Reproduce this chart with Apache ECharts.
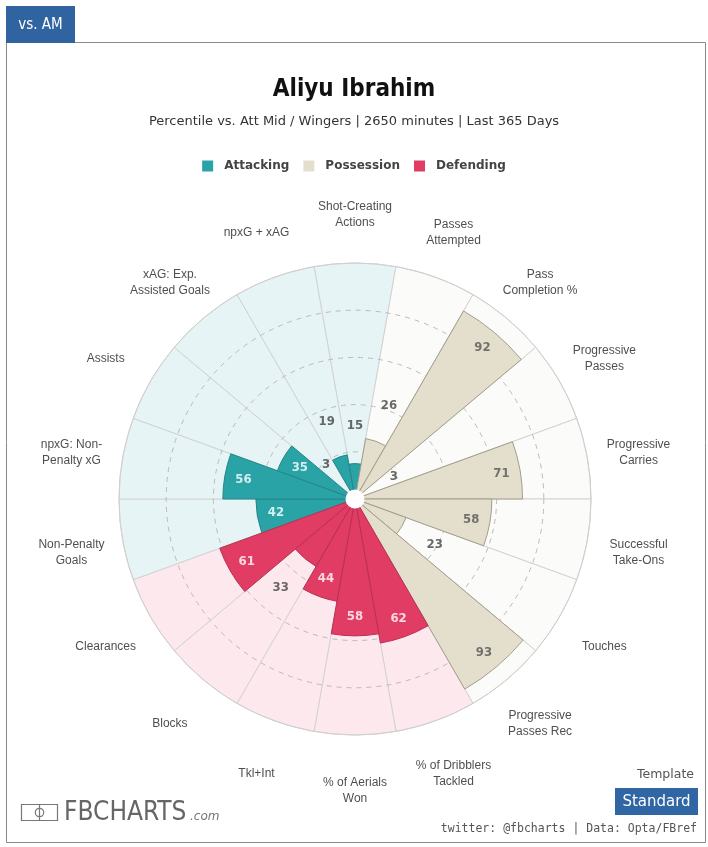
<!DOCTYPE html>
<html><head><meta charset="utf-8">
<script src="https://cdn.jsdelivr.net/npm/echarts@6/dist/echarts.min.js"></script>
<style>html,body{margin:0;padding:0;background:#fff}#c{width:708px;height:847px}</style>
</head><body><div id="c"></div>
<script>
// ---- data ----
const categories = ['Shot-Creating\nActions','Passes\nAttempted','Pass\nCompletion %','Progressive\nPasses','Progressive\nCarries','Successful\nTake-Ons','Touches','Progressive\nPasses Rec','% of Dribblers\nTackled','% of Aerials\nWon','Tkl+Int','Blocks','Clearances','Non-Penalty\nGoals','npxG: Non-\nPenalty xG','Assists','xAG: Exp.\nAssisted Goals','npxG + xAG'];
const values = [15,26,92,3,71,58,23,93,62,58,44,33,61,42,56,35,3,19];
const groups = ['Attacking','Possession','Possession','Possession','Possession','Possession','Possession','Possession','Defending','Defending','Defending','Defending','Defending','Attacking','Attacking','Attacking','Attacking','Attacking'];
const groupNames = ['Attacking','Possession','Defending'];
const radiusTicks = [0,20,40,60,80,100];
const titleText = 'Aliyu Ibrahim';
const subtitleText = 'Percentile vs. Att Mid / Wingers | 2650 minutes | Last 365 Days';

// ---- styles ----
const barColors = {Attacking:'#2aa3a7', Possession:'#e4dfcc', Defending:'#e03c64'};
const barBorders = {Attacking:'#23878b', Possession:'#a39d8b', Defending:'#b93154'};
const bgColors = {Attacking:'#e6f4f5', Possession:'#fbfbf9', Defending:'#fde8ee'};
const insideText = {Attacking:'#ffffff', Possession:'#555555', Defending:'#ffffff'};
const CX = 355, CY = 499, R = 236;
const LABEL_R = 122;

const chart = echarts.init(document.getElementById('c'), null, {renderer:'canvas'});

const series = [];
series.push({
  name:'bg', type:'bar', coordinateSystem:'polar', silent:true, z:0,
  barGap:'-100%', barCategoryGap:'0%',
  data: categories.map((c,i)=>({value:radiusTicks[radiusTicks.length-1], itemStyle:{color:bgColors[groups[i]]}})),
  itemStyle:{borderColor:'#d3d3d3', borderWidth:1}
});
groupNames.forEach(g=>{
  series.push({
    name:g, type:'bar', coordinateSystem:'polar', z:2,
    barGap:'-100%', barCategoryGap:'0%',
    data: values.map((v,i)=> groups[i]===g ? v : '-'),
    itemStyle:{color:barColors[g], borderColor:barBorders[g], borderWidth:1}
  });
});
series.push({
  name:'values', type:'scatter', coordinateSystem:'polar', z:5, silent:true, clip:false,
  symbolSize:1, itemStyle:{color:'rgba(0,0,0,0)'},
  data: values.map((v,i)=>{
    const inside = v >= 35;
    return {value:[inside ? v-8 : v+16, i],
      label:{color: inside ? insideText[groups[i]] : '#444'}};
  }),
  label:{show:true, position:'inside', formatter:p=>String(values[p.dataIndex]),
    fontFamily:'DejaVu Sans Condensed', fontWeight:'bold', fontSize:13}
});
series.push({
  name:'cats', type:'scatter', coordinateSystem:'polar', z:5, silent:true, clip:false,
  symbolSize:1, itemStyle:{color:'rgba(0,0,0,0)'},
  data: categories.map((c,i)=>[LABEL_R, i]),
  label:{show:true, position:'inside', offset:[0,4], formatter:p=>categories[p.dataIndex],
    fontFamily:'Liberation Sans', fontSize:12, color:'#222', lineHeight:16, align:'center'}
});

chart.setOption({
  animation:false,
  backgroundColor:'#fff',
  title:[
    {text:titleText, left:'center', top:73, textStyle:{fontFamily:'DejaVu Sans Condensed', fontWeight:'bold', fontSize:24, color:'#111'}},
    {text:subtitleText, left:'center', top:110, textStyle:{fontFamily:'DejaVu Sans', fontWeight:'normal', fontSize:13, color:'#333'}}
  ],
  legend:{data:groupNames, top:155, left:'center', icon:'rect', itemWidth:11, itemHeight:11, itemGap:14,
    itemStyle:{borderWidth:0},
    textStyle:{fontFamily:'DejaVu Sans', fontWeight:'bold', fontSize:12, color:'#444', padding:[0,0,0,6]}},
  polar:{center:[CX,CY], radius:R},
  angleAxis:{type:'category', data:categories, startAngle:100, clockwise:true, z:1,
    axisLine:{show:true, lineStyle:{color:'#d0d0d0'}}, axisTick:{show:false}, axisLabel:{show:false}, splitLine:{show:false}},
  radiusAxis:{type:'value', min:0, max:100, interval:20, z:1,
    axisLine:{show:false}, axisTick:{show:false}, axisLabel:{show:false},
    splitLine:{show:true, lineStyle:{color:['#bbbbbb','#bbbbbb','#bbbbbb','#bbbbbb','#bbbbbb','rgba(0,0,0,0)'], type:[5,5], width:1}}},
  series:series,
  graphic:[
    {type:'rect', z:100, shape:{x:6.5, y:42.5, width:699, height:800}, style:{fill:null, stroke:'#8a8a8a', lineWidth:1}},
    {type:'rect', z:100, shape:{x:6, y:6, width:69, height:37}, style:{fill:'#2f64a0'}},
    {type:'text', z:101, x:40.5, y:25, style:{text:'vs. AM', fill:'#fff', font:'15px "DejaVu Sans Condensed"', align:'center', verticalAlign:'middle'}},
    {type:'circle', z:100, shape:{cx:CX, cy:CY, r:9.5}, style:{fill:'#fff'}},
    // logo
    {type:'rect', z:100, shape:{x:21.5, y:804.5, width:36, height:16}, style:{fill:null, stroke:'#777', lineWidth:1.2}},
    {type:'line', z:100, shape:{x1:39.5, y1:804.5, x2:39.5, y2:820.5}, style:{stroke:'#777', lineWidth:1.2}},
    {type:'circle', z:100, shape:{cx:39.5, cy:812.5, r:4.2}, style:{fill:null, stroke:'#777', lineWidth:1.2}},
    {type:'text', z:100, x:64, y:813, style:{text:'FBCHARTS', fill:'#666', font:'26px "DejaVu Sans Condensed"', align:'left', verticalAlign:'middle'}},
    {type:'text', z:100, x:190, y:823, style:{text:'.com', fill:'#777', font:'italic 12px "DejaVu Sans"', align:'left', verticalAlign:'bottom'}},
    {type:'text', z:100, x:694, y:775, style:{text:'Template', fill:'#555', font:'12.5px "DejaVu Sans"', align:'right', verticalAlign:'middle'}},
    {type:'rect', z:100, shape:{x:615, y:788, width:83, height:27}, style:{fill:'#3066a3'}},
    {type:'text', z:101, x:656.5, y:802, style:{text:'Standard', fill:'#fff', font:'15px "DejaVu Sans"', align:'center', verticalAlign:'middle'}},
    {type:'text', z:100, x:697, y:829, style:{text:'twitter: @fbcharts | Data: Opta/FBref', fill:'#555', font:'11.5px "DejaVu Sans Mono"', align:'right', verticalAlign:'middle'}}
  ]
});
</script></body></html>
